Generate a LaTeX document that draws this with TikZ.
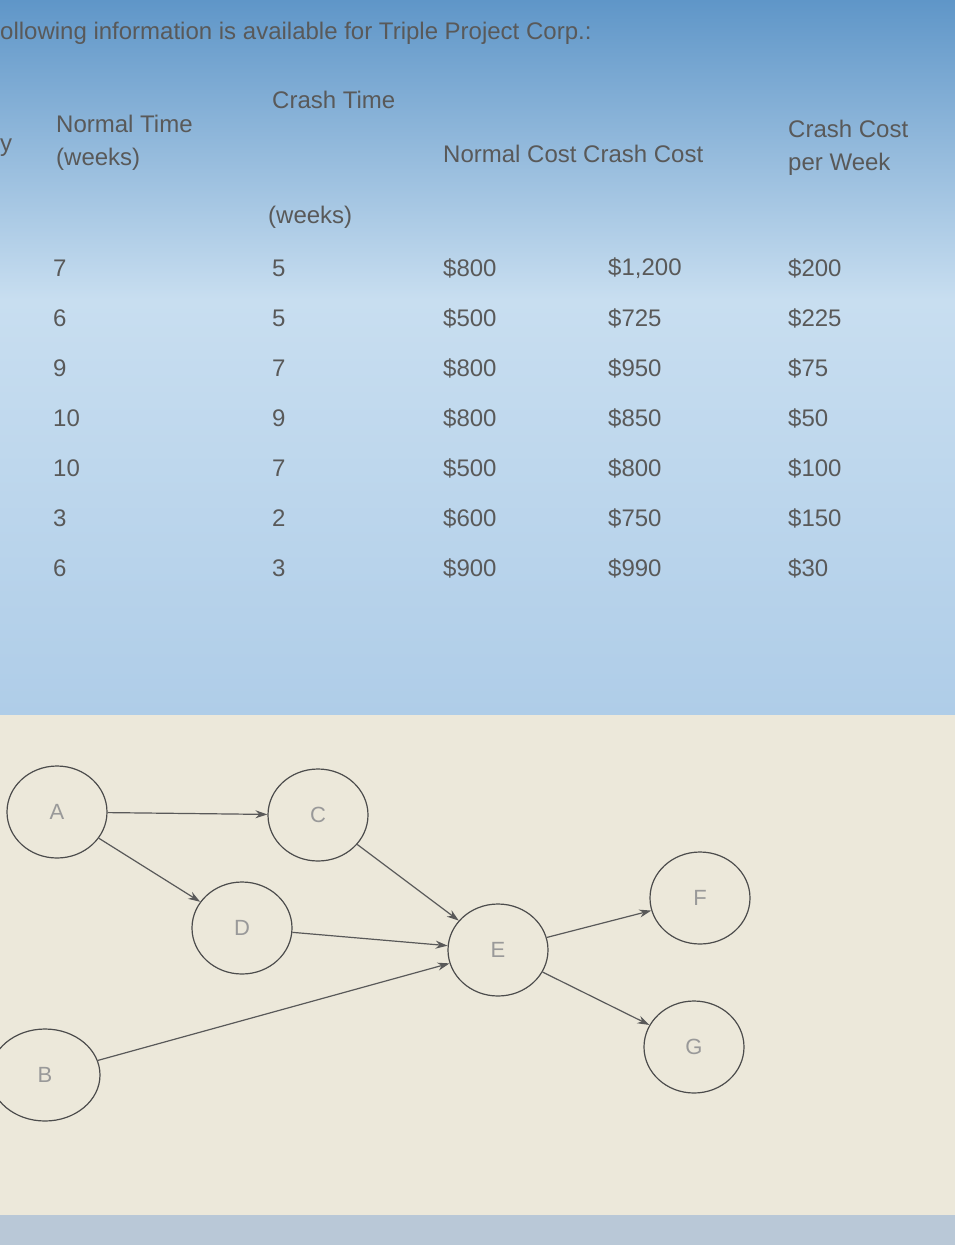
\documentclass[tikz,border=0pt]{standalone}
\usepackage{fontspec}
\setmainfont{Liberation Sans}
\usetikzlibrary{shapes.geometric,arrows.meta}
\definecolor{topblue}{RGB}{95,150,200}
\definecolor{midblue}{RGB}{200,222,240}
\definecolor{lowblue}{RGB}{175,205,232}
\definecolor{beige}{RGB}{236,232,218}
\definecolor{strip}{RGB}{185,200,215}
\begin{document}
\begin{tikzpicture}[x=1pt,y=-1pt,
  txt/.style={text=black!65,font=\fontsize{24}{29}\selectfont,inner sep=0pt},
  nd/.style={draw=black!70,line width=1.2pt,ellipse,minimum width=100pt,minimum height=92pt,text=black!40,font=\fontsize{22}{26}\selectfont},
  ar/.style={draw=black!65,line width=1.2pt,-{Stealth[length=12pt,width=8pt]}}]
\useasboundingbox (0,0) rectangle (955,1245);
\shade[top color=topblue, bottom color=midblue] (0,0) rectangle (955,300);
\shade[top color=midblue, bottom color=lowblue] (0,300) rectangle (955,715);
\fill[beige] (0,715) rectangle (955,1215);
\fill[strip] (0,1215) rectangle (955,1245);
\node[txt,anchor=west] (title) at (0,33) {ollowing information is available for Triple Project Corp.:};
\node[txt,anchor=west] (y) at (0,148) {y};
\node[txt,anchor=north west,align=left] (h1) at (56,115) {Normal Time\\[4pt](weeks)};
\node[txt,anchor=west] (h2) at (272,100) {Crash Time};
\node[txt,anchor=west] (h2b) at (268,217) {(weeks)};
\node[txt,anchor=west] (h3) at (443,154) {Normal Cost Crash Cost};
\node[txt,anchor=north west,align=left] (h5) at (788,120) {Crash Cost\\[4pt]per Week};
\foreach \a/\b/\c/\d/\e [count=\i] in {7/5/\$800/{\$1,200}/\$200, 6/5/\$500/\$725/\$225, 9/7/\$800/\$950/\$75, 10/9/\$800/\$850/\$50, 10/7/\$500/\$800/\$100, 3/2/\$600/\$750/\$150, 6/3/\$900/\$990/\$30}{
  \pgfmathsetmacro\yy{268+50*(\i-1)}
  \node[txt,anchor=west] (r\i a) at (53,\yy) {\a};
  \node[txt,anchor=west] (r\i b) at (272,\yy) {\b};
  \node[txt,anchor=west] (r\i c) at (443,\yy) {\c};
  \node[txt,anchor=west] (r\i d) at (608,\yy) {\d};
  \node[txt,anchor=west] (r\i e) at (788,\yy) {\e};
}
\node[nd] (A) at (57,812) {A};
\node[nd] (C) at (318,815) {C};
\node[nd] (D) at (242,928) {D};
\node[nd] (E) at (498,950) {E};
\node[nd] (F) at (700,898) {F};
\node[nd] (G) at (694,1047) {G};
\node[nd,minimum width=110pt] (B) at (45,1075) {B};
\draw[ar] (A) -- (C);
\draw[ar] (A) -- (D);
\draw[ar] (C) -- (E);
\draw[ar] (D) -- (E);
\draw[ar] (B) -- (E);
\draw[ar] (E) -- (F);
\draw[ar] (E) -- (G);
\end{tikzpicture}
\end{document}
